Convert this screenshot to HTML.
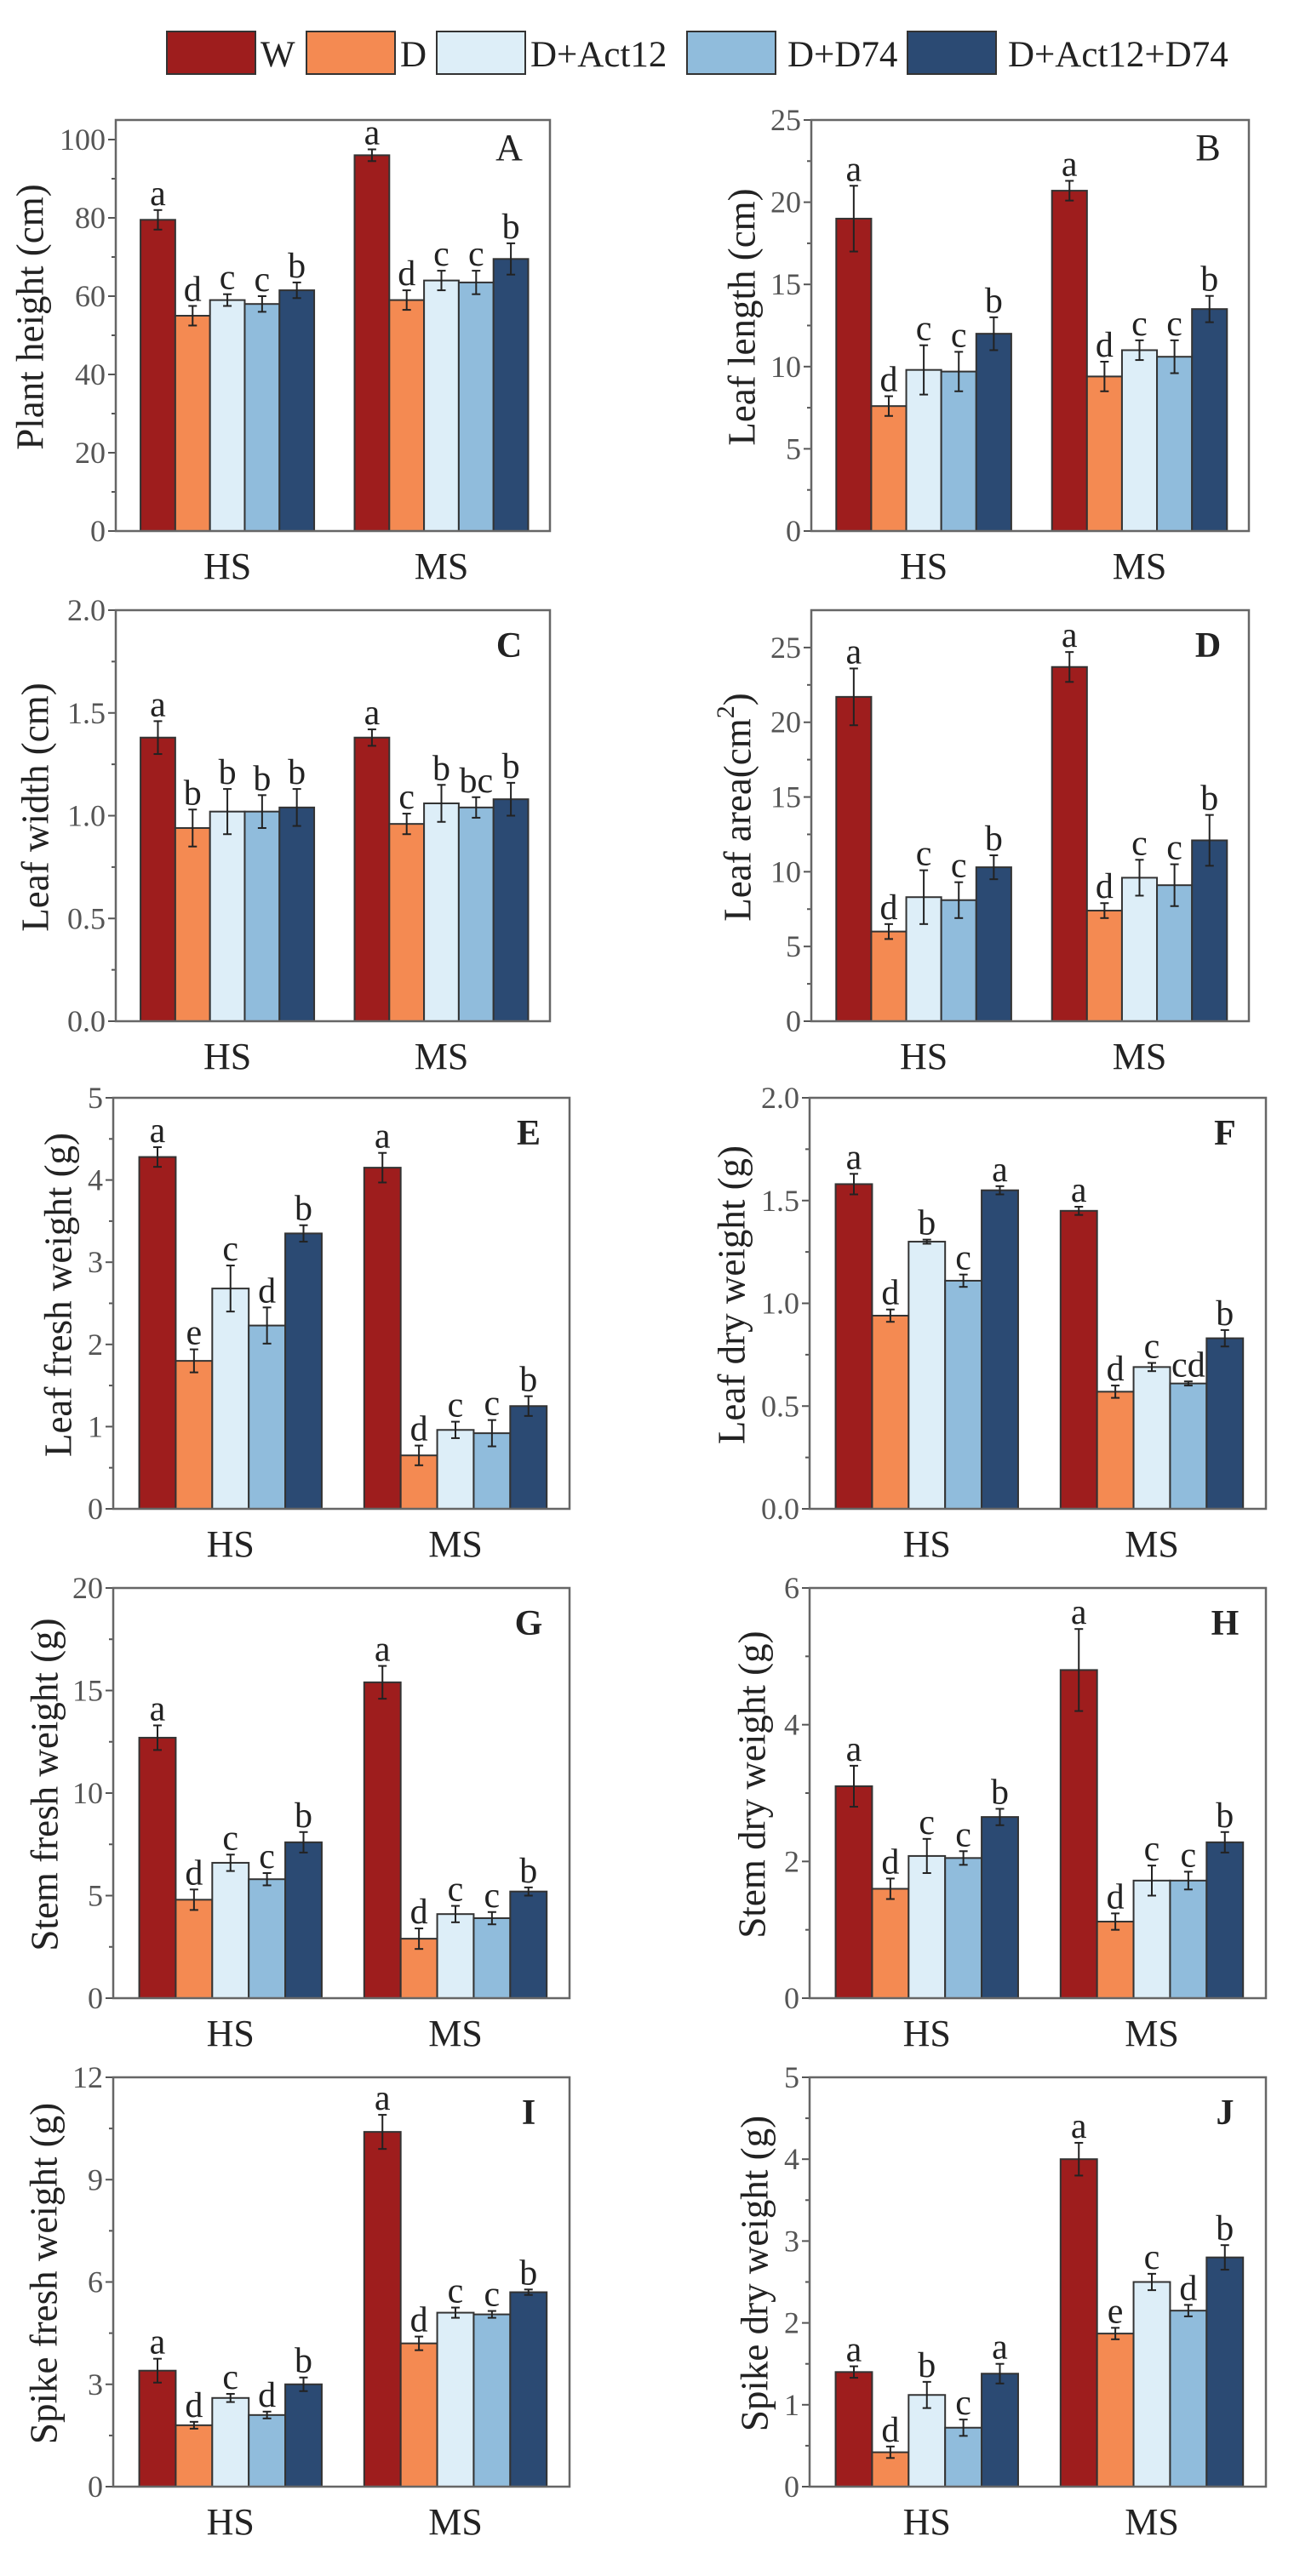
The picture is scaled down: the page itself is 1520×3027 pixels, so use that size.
<!DOCTYPE html>
<html><head><meta charset="utf-8"><style>
html,body{margin:0;padding:0;background:#fff;}
svg{display:block;font-family:"Liberation Serif","Times New Roman",serif;}
</style></head><body>
<svg id="fig" width="1520" height="3027" viewBox="0 0 1520 3027" xmlns="http://www.w3.org/2000/svg">
<g id="legend"></g>
</svg>
<script>
const seriesNames = ["W","D","D+Act12","D+D74","D+Act12+D74"];
const seriesColors = ["#9e1d1d","#f48a52","#ddeef8","#90bcdc","#2b4a73"];
const groups = ["HS","MS"];
const panelIds = ["A","B","C","D","E","F","G","H","I","J"];
const yTitles = ["Plant height (cm)","Leaf length (cm)","Leaf width (cm)","Leaf area(cm","Leaf fresh weight (g)","Leaf dry weight (g)","Stem fresh weight (g)","Stem dry weight (g)","Spike fresh weight (g)","Spike dry weight (g)"];
const yMax = [105,25,2.0,27.5,5,2.0,20,6,12,5];
const yStep = [20,5,0.5,5,1,0.5,5,2,3,1];
const tickDecimals = [0,0,1,0,0,1,0,0,0,0];
const valuesHS = [
 [79.5,55,59,58,61.5],[19,7.6,9.8,9.7,12],[1.38,0.94,1.02,1.02,1.04],[21.7,6,8.3,8.1,10.3],
 [4.28,1.8,2.68,2.23,3.35],[1.58,0.94,1.3,1.11,1.55],[12.7,4.8,6.6,5.8,7.6],[3.1,1.6,2.08,2.05,2.65],
 [3.4,1.8,2.6,2.1,3.0],[1.4,0.42,1.12,0.72,1.38]];
const valuesMS = [
 [96,59,64,63.5,69.5],[20.7,9.4,11,10.6,13.5],[1.38,0.96,1.06,1.04,1.08],[23.7,7.4,9.6,9.1,12.1],
 [4.15,0.65,0.96,0.92,1.25],[1.45,0.57,0.69,0.61,0.83],[15.4,2.9,4.1,3.9,5.2],[4.8,1.12,1.72,1.72,2.28],
 [10.4,4.2,5.1,5.05,5.7],[4.0,1.87,2.5,2.15,2.8]];
const errHS = [
 [2.5,2.5,1.5,2,2],[2,0.6,1.5,1.2,1],[0.08,0.09,0.11,0.08,0.09],[1.9,0.5,1.8,1.2,0.8],
 [0.12,0.14,0.28,0.22,0.1],[0.05,0.03,0.01,0.03,0.02],[0.6,0.5,0.4,0.3,0.5],[0.3,0.15,0.25,0.1,0.12],
 [0.35,0.1,0.12,0.1,0.2],[0.07,0.07,0.16,0.1,0.12]];
const errMS = [
 [1.5,2.5,2.5,3,4],[0.6,0.9,0.6,1,0.8],[0.04,0.05,0.09,0.05,0.08],[1,0.5,1.2,1.4,1.7],
 [0.18,0.12,0.1,0.16,0.12],[0.02,0.03,0.02,0.01,0.04],[0.8,0.5,0.4,0.3,0.2],[0.6,0.12,0.22,0.13,0.15],
 [0.5,0.2,0.15,0.1,0.08],[0.2,0.07,0.1,0.07,0.15]];
const lettersHS = [["a","d","c","c","b"],["a","d","c","c","b"],["a","b","b","b","b"],["a","d","c","c","b"],["a","e","c","d","b"],["a","d","b","c","a"],["a","d","c","c","b"],["a","d","c","c","b"],["a","d","c","d","b"],["a","d","b","c","a"]];
const lettersMS = [["a","d","c","c","b"],["a","d","c","c","b"],["a","c","b","bc","b"],["a","d","c","c","b"],["a","d","c","c","b"],["a","d","c","cd","b"],["a","d","c","c","b"],["a","d","c","c","b"],["a","d","c","c","b"],["a","e","c","d","b"]];

const NS="http://www.w3.org/2000/svg";
const svg=document.getElementById('fig');
function mk(tag,attrs,parent){const e=document.createElementNS(NS,tag);for(const k in attrs)e.setAttribute(k,attrs[k]);(parent||svg).appendChild(e);return e;}

const rowTop=[141,717,1290,1866,2441];
const rowBot=[624,1200,1773,2348,2922];
const colL=[[136,646],[953,1467]];
const colLwide=[[133,669],[951,1487]];
const titleXs=[40,876,46,871,73,864,57,888,56,891];

const lg=document.getElementById('legend');
const legBoxX=[196,360,513,807,1066];
for(let i=0;i<5;i++){
  const g=mk('g',{},lg);
  
  
  mk('rect',{x:legBoxX[i],y:37,width:104,height:50,fill:seriesColors[i],stroke:'#333','stroke-width':2},g);
  const t=mk('text',{x:legBoxX[i]+110+(i>=3?8:0),y:78,'font-size':43,fill:'#222'},g);
  t.textContent=seriesNames[i];
}

for(let p=0;p<10;p++){
  const r=Math.floor(p/2), c=p%2;
  const xs=(r<2?colL:colLwide)[c];
  const L=xs[0],R=xs[1],T=rowTop[r],B=rowBot[r],W=R-L;
  const yS=v=>B-(v/yMax[p])*(B-T);
  const g=mk('g',{});
  
  
  const nT=Math.floor(yMax[p]/yStep[p]+1e-6);
  for(let k=0;k<=nT;k++){
    const v=k*yStep[p]; const y=yS(v);
    mk('line',{x1:L-9,x2:L,y1:y,y2:y,stroke:'#555','stroke-width':2},g);
    const t=mk('text',{x:L-12,y:y+12,'font-size':36,fill:'#555','text-anchor':'end'},g);
    
    
    t.textContent=v.toFixed(tickDecimals[p]);
    const mv=v+yStep[p]/2;
    if(mv<yMax[p]){const my=yS(mv);mk('line',{x1:L-5,x2:L,y1:my,y2:my,stroke:'#555','stroke-width':2},g);}
  }
  const gw=0.40*W, bw=gw/5;
  const starts=[L+0.057*W,L+0.55*W];
  for(let gi=0;gi<2;gi++){
    const vals=gi?valuesMS[p]:valuesHS[p], errs=gi?errMS[p]:errHS[p], lets=gi?lettersMS[p]:lettersHS[p];
    for(let s=0;s<5;s++){
      const x=starts[gi]+s*bw, y=yS(vals[s]);
      const b=mk('rect',{x:x,y:y,width:bw,height:B-y,fill:seriesColors[s],stroke:'#333','stroke-width':2},g);
      
      
      const cx=x+bw/2, yt=yS(vals[s]+errs[s]), yb=yS(vals[s]-errs[s]);
      const eb=mk('g',{stroke:'#222','stroke-width':2},g);
      
      
      mk('line',{x1:cx,x2:cx,y1:yt,y2:yb},eb);
      mk('line',{x1:cx-5,x2:cx+5,y1:yt,y2:yt},eb);
      mk('line',{x1:cx-5,x2:cx+5,y1:yb,y2:yb},eb);
      const lt=mk('text',{x:cx,y:yt-6,'font-size':42,fill:'#222','text-anchor':'middle'},g);
      
      
      lt.textContent=lets[s];
    }
    const gl=mk('text',{x:starts[gi]+gw/2,y:B+56,'font-size':44,fill:'#222','text-anchor':'middle'},g);
    
    
    gl.textContent=groups[gi];
  }
  const fr=mk('rect',{x:L,y:T,width:W,height:B-T,fill:'none',stroke:'#666','stroke-width':2.5},g);
  
  
  const pl=mk('text',{x:R-48,y:T+(p<2?47:55),'font-size':(p<2?44:42),'font-weight':(p<2?'normal':'bold'),fill:'#222','text-anchor':'middle'},g);
  
  
  pl.textContent=panelIds[p];
  const tx=titleXs[p], ty=(T+B)/2-10;
  const yt=mk('text',{x:tx,y:ty,'font-size':45,fill:'#222','text-anchor':'middle','dominant-baseline':'middle',transform:'rotate(-90 '+tx+' '+ty+')'},g);
  
  
  yt.textContent=yTitles[p];
  if(p===3){
    const sup=mk('tspan',{'font-size':30,dy:-16},yt); sup.textContent='2';
    const cl=mk('tspan',{dy:16},yt); cl.textContent=')';
  }
}
</script>
</body></html>
